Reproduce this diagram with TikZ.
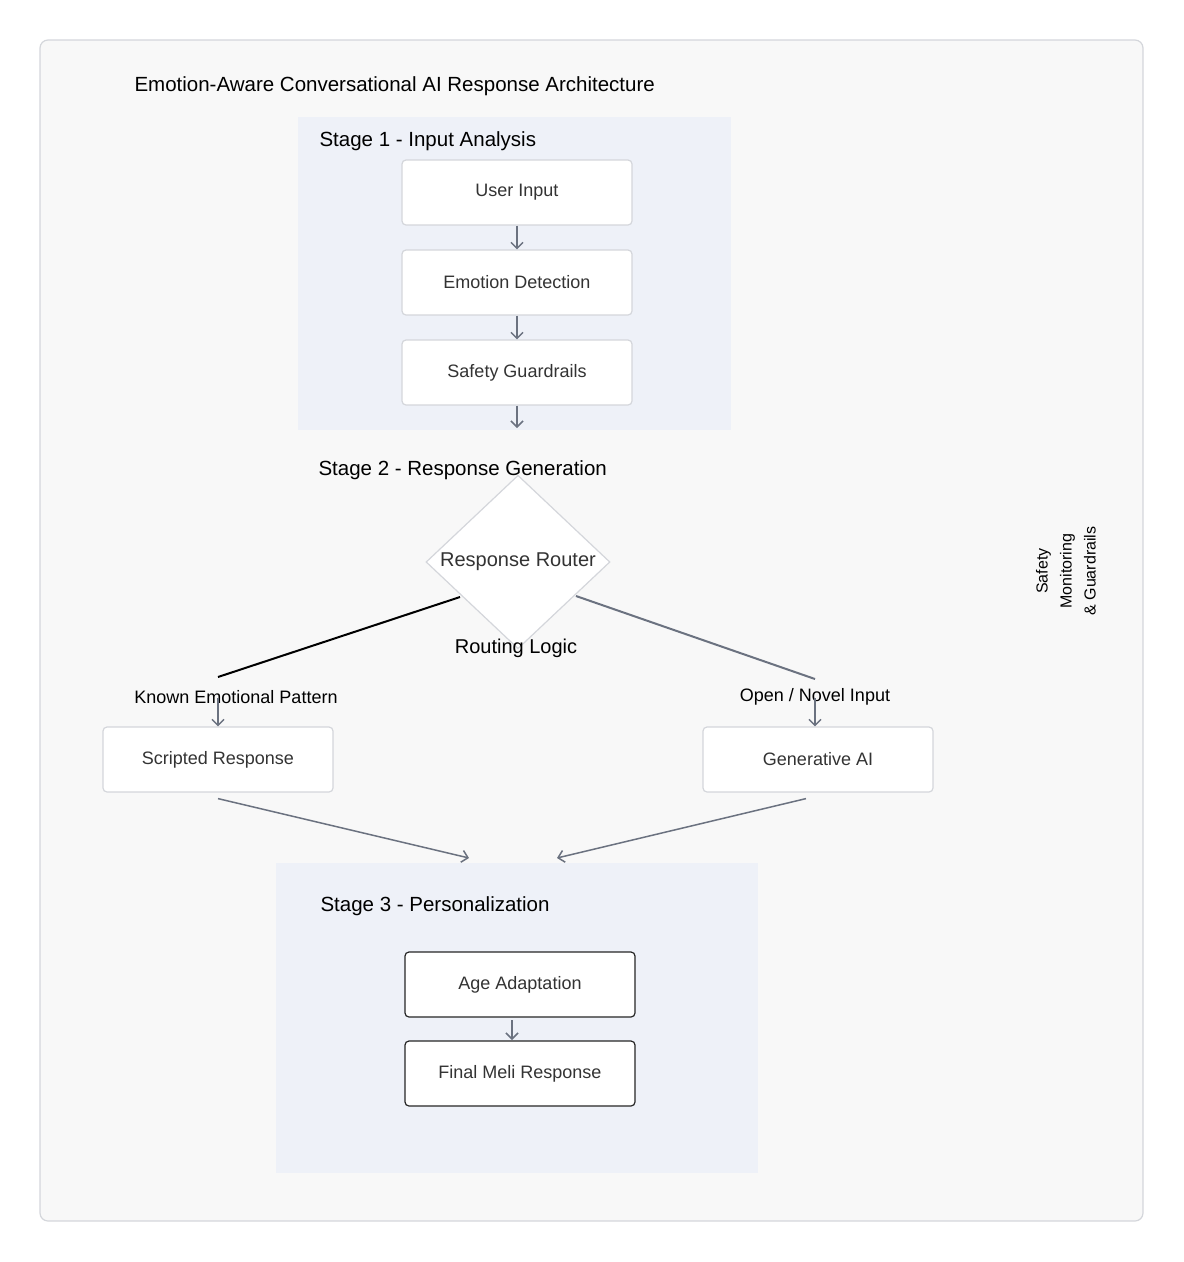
\documentclass[tikz,border=0pt]{standalone}
\usepackage{fontspec}
\setmainfont{Liberation Sans}
\usetikzlibrary{shapes.geometric,arrows.meta}
\definecolor{pagebg}{HTML}{F8F8F8}
\definecolor{stagebg}{HTML}{EEF1F8}
\definecolor{boxline}{HTML}{D4D6DB}
\definecolor{arrowgray}{HTML}{6B7280}
\definecolor{txt}{HTML}{333333}
\tikzset{
  box/.style={draw=boxline,line width=1.2pt,fill=white,rounded corners=4pt,minimum width=230pt,minimum height=65pt,font=\fontsize{18}{21}\selectfont,text=txt},
  darkbox/.style={box,draw=black!85},
  flow/.style={draw=arrowgray,line width=1.5pt,-{Straight Barb[length=6pt,width=12pt]}},
  stagelbl/.style={anchor=west,font=\fontsize{20.5}{24}\selectfont},
}
\begin{document}
\begin{tikzpicture}[x=1pt,y=-1pt]
\useasboundingbox (0,0) rectangle (1184,1262);
%frame
\draw[draw=boxline,line width=1.2pt,fill=pagebg,rounded corners=8pt] (40,40) rectangle (1143,1221);
\node[anchor=west,font=\fontsize{20.5}{24}\selectfont] (title) at (131,86) {Emotion-Aware Conversational AI Response Architecture};

%Stage 1
\fill[stagebg] (298,117) rectangle (731,430);
\node[stagelbl] (s1) at (316,141) {Stage 1 - Input Analysis};
\node[box] (input) at (517,192.5) {User Input};
\node[box] (emotion) at (517,282.5) {Emotion Detection};
\node[box] (guard) at (517,372.5) {Safety Guardrails};
\coordinate (s1out) at (517,428);
\draw[flow] (input) -- (emotion);
\draw[flow] (emotion) -- (guard);
\draw[flow] (guard) -- (s1out);

%Stage 2
\node[stagelbl] (s2) at (315,470) {Stage 2 - Response Generation};
\node[diamond,draw=boxline,line width=1.2pt,fill=white,minimum width=184pt,minimum height=150pt,inner sep=0pt,font=\fontsize{20}{23}\selectfont,text=txt] (router) at (518,562) {\raisebox{-2pt}{Response Router}};
\node[font=\fontsize{20}{23}\selectfont] (logic) at (516,648) {Routing Logic};
\coordinate (rl) at (460,597);
\coordinate (rr) at (576,596);
\coordinate (kl) at (218,677);
\coordinate (kr) at (815,679);
\draw[black,line width=2pt] (rl) -- (kl);
\draw[arrowgray,line width=2pt] (rr) -- (kr);
\node[font=\fontsize{18}{21}\selectfont] (known) at (236,697) {Known Emotional Pattern};
\node[font=\fontsize{18}{21}\selectfont] (novel) at (815,697) {Open / Novel Input};
\node[box] (scripted) at (218,759.5) {Scripted Response};
\node[box] (genai) at (818,759.5) {Generative AI};
\draw[flow] (218,698) -- (scripted.north -| 218,0);
\draw[flow] (815,698) -- (genai.north -| 815,0);
\coordinate (ml) at (469,858);
\coordinate (mr) at (557,858);
\draw[flow] (scripted.south) ++(0,6) -- (ml);
\draw[flow] (genai.south) ++(-12,6) -- (mr);

%Stage 3
\fill[stagebg] (276,863) rectangle (758,1173);
\node[stagelbl] (s3) at (317,906) {Stage 3 - Personalization};
\node[darkbox] (age) at (520,984.5) {Age Adaptation};
\node[darkbox] (final) at (520,1073.5) {Final Meli Response};
\draw[flow] (512,1020) -- (512,1040);

%side note
\node[rotate=90,align=center,font=\fontsize{16}{24}\selectfont] (note) at (1066,571) {Safety\\Monitoring\\\& Guardrails};
\end{tikzpicture}
\end{document}
